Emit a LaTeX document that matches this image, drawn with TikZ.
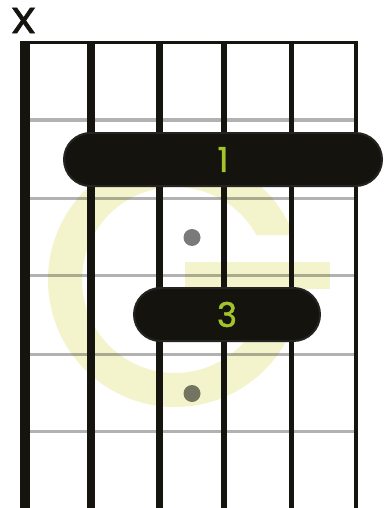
\documentclass[tikz,border=0pt]{standalone}
\usepackage{fontspec}
\newfontfamily\poppins[FakeBold=1.3]{Poppins}
\newfontfamily\poppinsx[FakeBold=2]{Poppins}
\usetikzlibrary{shapes.misc}
\definecolor{ink}{RGB}{21,20,15}
\definecolor{barrefill}{RGB}{20,19,14}
\definecolor{barreline}{RGB}{36,36,34}
\definecolor{gyellow}{RGB}{243,244,204}
\definecolor{lblgreen}{RGB}{163,197,43}
\tikzset{
  stringline/.style={draw=ink, line cap=butt},
  fretline/.style={draw=black, draw opacity=0.3, line width=3.3pt},
  gstroke/.style={draw=gyellow, line width=34pt, line cap=butt},
  fingerdot/.style={circle, fill=black, fill opacity=0.52, minimum size=17pt, inner sep=0pt},
  barre/.style={rounded rectangle, fill=barrefill, draw=barreline, line width=2pt,
    text=lblgreen, font=\poppins\fontsize{34}{34}\selectfont, inner sep=0pt},
  mutemark/.style={font=\poppinsx\fontsize{36}{36}\selectfont, text=ink, inner sep=0pt, xscale=1.15}
}
\begin{document}
\begin{tikzpicture}[x=1pt,y=-1pt]
\useasboundingbox (0,0) rectangle (385,508);
\fill[white] (0,0) rectangle (385,508);
% watermark G
\coordinate (gc) at (175,280);
\begin{scope}
  \clip (0,0) -- (385,0) -- (385,235) -- (200,235) -- (200,262) -- (385,262) -- (385,508) -- (0,508) -- cycle;
  \draw[gstroke] ([shift={(-15:110)}]gc) arc[start angle=-15, end angle=-360, radius=110];
\end{scope}
\fill[gyellow] (185,262) rectangle (330,289);
% frets
\foreach \y/\n in {120/1,198.5/2,275.5/3,354.5/4,431.5/5}{
  \coordinate (fl\n) at (30,\y);
  \coordinate (fr\n) at (354,\y);
  \draw[fretline] (fl\n) -- (fr\n);
}
% strings
\foreach \x/\w/\n in {25/10/1,91/8/2,159.5/7/3,224/6/4,291/5/5,355.8/3.6/6}{
  \coordinate (st\n) at (\x,41);
  \coordinate (sb\n) at (\x,508);
  \draw[stringline, line width=\w pt] (st\n) -- (sb\n);
}
% nut
\coordinate (nl) at (20,42.4);
\coordinate (nr) at (357.6,42.4);
\draw[draw=ink, line width=3.6pt] (nl) -- (nr);
% dots
\node[fingerdot] (d1) at (192,237.5) {};
\node[fingerdot] (d2) at (192,393.5) {};
% barres
\node[barre, minimum width=318pt, minimum height=53pt] (b1) at (223,159.5) {1};
\node[barre, minimum width=186pt, minimum height=53pt] (b3) at (227,314.5) {3};
% muted string mark
\node[mutemark] (mx) at (23.5,20.5) {X};
\end{tikzpicture}
\end{document}
